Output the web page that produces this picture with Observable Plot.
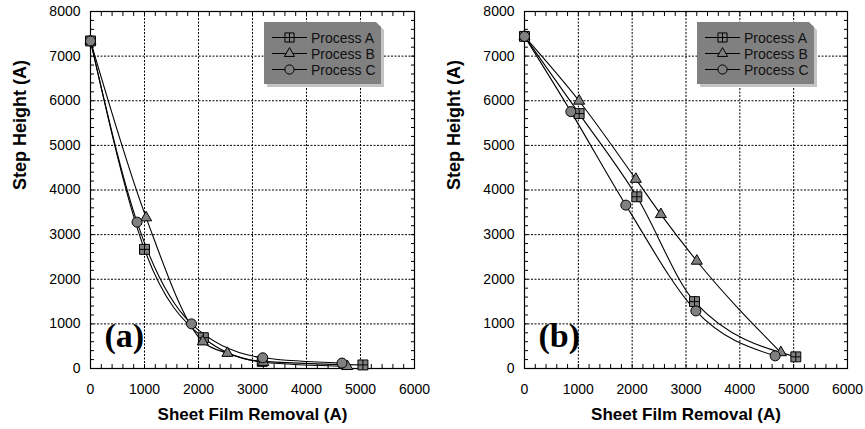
<!DOCTYPE html>
<html><head><meta charset="utf-8">
<script src="https://cdn.jsdelivr.net/npm/d3@7"></script>
<script src="https://cdn.jsdelivr.net/npm/@observablehq/plot@0.6"></script>
<style>
body{margin:0;background:#fff;}
#chart{display:flex;width:865px;height:429px;overflow:hidden;}
</style>
</head><body><div id="chart"></div>
<script>
// ---- data ----
const seriesNames = ["Process A", "Process B", "Process C"];
const panelLabels = ["(a)", "(b)"];
const xTitle = "Sheet Film Removal (A)";
const yTitle = "Step Height (A)";
const xTicks = [0, 1000, 2000, 3000, 4000, 5000, 6000];
const yTicks = [0, 1000, 2000, 3000, 4000, 5000, 6000, 7000, 8000];

// panel (a)
const aRemovalA = [0, 1000, 2090, 3180, 5045];
const aStepA    = [7340, 2670, 690, 160, 80];
const aRemovalB = [0, 1030, 2080, 2535, 3200, 4755];
const aStepB    = [7340, 3380, 600, 343, 140, 48];
const aRemovalC = [0, 862, 1870, 3190, 4658];
const aStepC    = [7340, 3280, 1000, 240, 122];

// panel (b)
const bRemovalA = [0, 1015, 2087, 3158, 5040];
const bStepA    = [7442, 5712, 3848, 1499, 261];
const bRemovalB = [0, 1015, 2068, 2533, 3201, 4762];
const bStepB    = [7442, 5995, 4243, 3453, 2409, 358];
const bRemovalC = [0, 861, 1882, 3183, 4656];
const bStepC    = [7442, 5757, 3661, 1290, 283];

// ---- styling ----
const sans = "'Liberation Sans', Arial, Helvetica, sans-serif";
const serif = "'Liberation Serif', 'Times New Roman', serif";
const markerFill = "#808080";

const squarePlus = {
  draw(ctx, size) {
    const s = Math.sqrt(size) / 2;
    ctx.moveTo(-s, -s); ctx.lineTo(s, -s); ctx.lineTo(s, s); ctx.lineTo(-s, s); ctx.closePath();
    ctx.moveTo(0, -s); ctx.lineTo(0, s);
    ctx.moveTo(-s, 0); ctx.lineTo(s, 0);
  }
};
const symbols = [squarePlus, d3.symbolTriangle, d3.symbolCircle];
const symbolR = [5.6, 4.1, 5];

const minorX = d3.range(0, 6001, 200);
const minorY = d3.range(0, 8001, 200);
const fmt = d => String(d);

function legendMark() {
  return (index, scales, values, dimensions) => {
    const {width, marginRight, marginTop} = dimensions;
    const bw = 117, bh = 62, cut = 5;
    const x0 = width - marginRight - 33 - bw, y0 = marginTop + 11;
    const g = d3.create("svg:g");
    const boxPath = (x, y) => `M${x},${y}H${x + bw - cut}L${x + bw},${y + cut}V${y + bh}H${x}Z`;
    g.append("path").attr("d", boxPath(x0 + 3, y0 + 3)).attr("fill", "#c4c4c4");
    g.append("path").attr("d", boxPath(x0, y0)).attr("fill", "#808080");
    seriesNames.forEach((name, i) => {
      const cy = y0 + 15.5 + i * 16;
      g.append("line").attr("x1", x0 + 8).attr("x2", x0 + 43).attr("y1", cy).attr("y2", cy)
        .attr("stroke", "black").attr("stroke-width", 1);
      const sz = Math.PI * symbolR[i] * symbolR[i] * 0.85;
      g.append("path").attr("d", d3.symbol(symbols[i], sz)())
        .attr("transform", `translate(${x0 + 25.5},${cy})`)
        .attr("fill", "#808080").attr("stroke", "black").attr("stroke-width", 1);
      g.append("text").attr("x", x0 + 47).attr("y", cy).attr("dy", "0.36em")
        .attr("text-anchor", "start")
        .attr("fill", "#111").attr("font-family", sans).attr("font-size", 14).text(name);
    });
    return g.node();
  };
}

function makePanel({width, marginLeft, marginRight, xs, ys, label}) {
  const rows = xs.flatMap((arr, i) => arr.map((x, j) => ({process: seriesNames[i], k: i, removal: x, step: ys[i][j]})));
  const tickOpts = {stroke: "black", fill: "none", label: null, tickSize: 4};
  return Plot.plot({
    width, height: 429,
    marginLeft, marginRight, marginTop: 11, marginBottom: 61,
    style: {fontFamily: sans, fontSize: "14px", color: "black", background: "white", overflow: "visible"},
    x: {domain: [0, 6000]},
    y: {domain: [0, 8000]},
    marks: [
      Plot.gridX(xTicks.slice(1, -1), {stroke: "black", strokeOpacity: 1, strokeWidth: 1, strokeDasharray: "2,1.5"}),
      Plot.gridY(yTicks.slice(1, -1), {stroke: "black", strokeOpacity: 1, strokeWidth: 1, strokeDasharray: "2,1.5"}),
      Plot.axisX(minorX, {...tickOpts, anchor: "bottom", dy: -4}),
      Plot.axisX(minorX, {...tickOpts, anchor: "top", dy: 4}),
      Plot.axisY(minorY, {...tickOpts, anchor: "left", dx: 4}),
      Plot.axisY(minorY, {...tickOpts, anchor: "right", dx: -4}),
      Plot.axisX(xTicks, {anchor: "bottom", tickSize: 0, tickPadding: 16, label: null, fill: "black", tickFormat: fmt}),
      Plot.axisY(yTicks, {anchor: "left", tickSize: 0, tickPadding: 10, label: null, fill: "black", tickFormat: fmt}),
      Plot.frame({stroke: "black", strokeWidth: 1.2}),
      Plot.line(rows, {x: "removal", y: "step", z: "process", curve: "monotone-x", stroke: "black", strokeWidth: 1.1}),
      ...[0, 1, 2].map(k => Plot.dot(rows.filter(d => d.k === k), {
        x: "removal", y: "step", symbol: symbols[k], r: symbolR[k],
        fill: markerFill, stroke: "black", strokeWidth: 1
      })),
      Plot.text([xTitle], {frameAnchor: "bottom", dy: 46, lineAnchor: "middle", fontWeight: "bold", fontSize: 17, fontFamily: sans, fill: "black"}),
      Plot.text([yTitle], {frameAnchor: "left", dx: -70, rotate: -90, lineAnchor: "middle", fontWeight: "bold", fontSize: 18, fontFamily: sans, fill: "black"}),
      Plot.text([label], {frameAnchor: "bottom-left", dx: 14, dy: -32, textAnchor: "start", lineAnchor: "middle", fontWeight: "bold", fontSize: 34, fontFamily: serif, fill: "black"}),
      legendMark()
    ]
  });
}

const chart = document.getElementById("chart");
chart.append(makePanel({
  width: 432, marginLeft: 90, marginRight: 18,
  xs: [aRemovalA, aRemovalB, aRemovalC], ys: [aStepA, aStepB, aStepC], label: panelLabels[0]
}));
chart.append(makePanel({
  width: 433, marginLeft: 92, marginRight: 18,
  xs: [bRemovalA, bRemovalB, bRemovalC], ys: [bStepA, bStepB, bStepC], label: panelLabels[1]
}));
</script>
</body></html>
